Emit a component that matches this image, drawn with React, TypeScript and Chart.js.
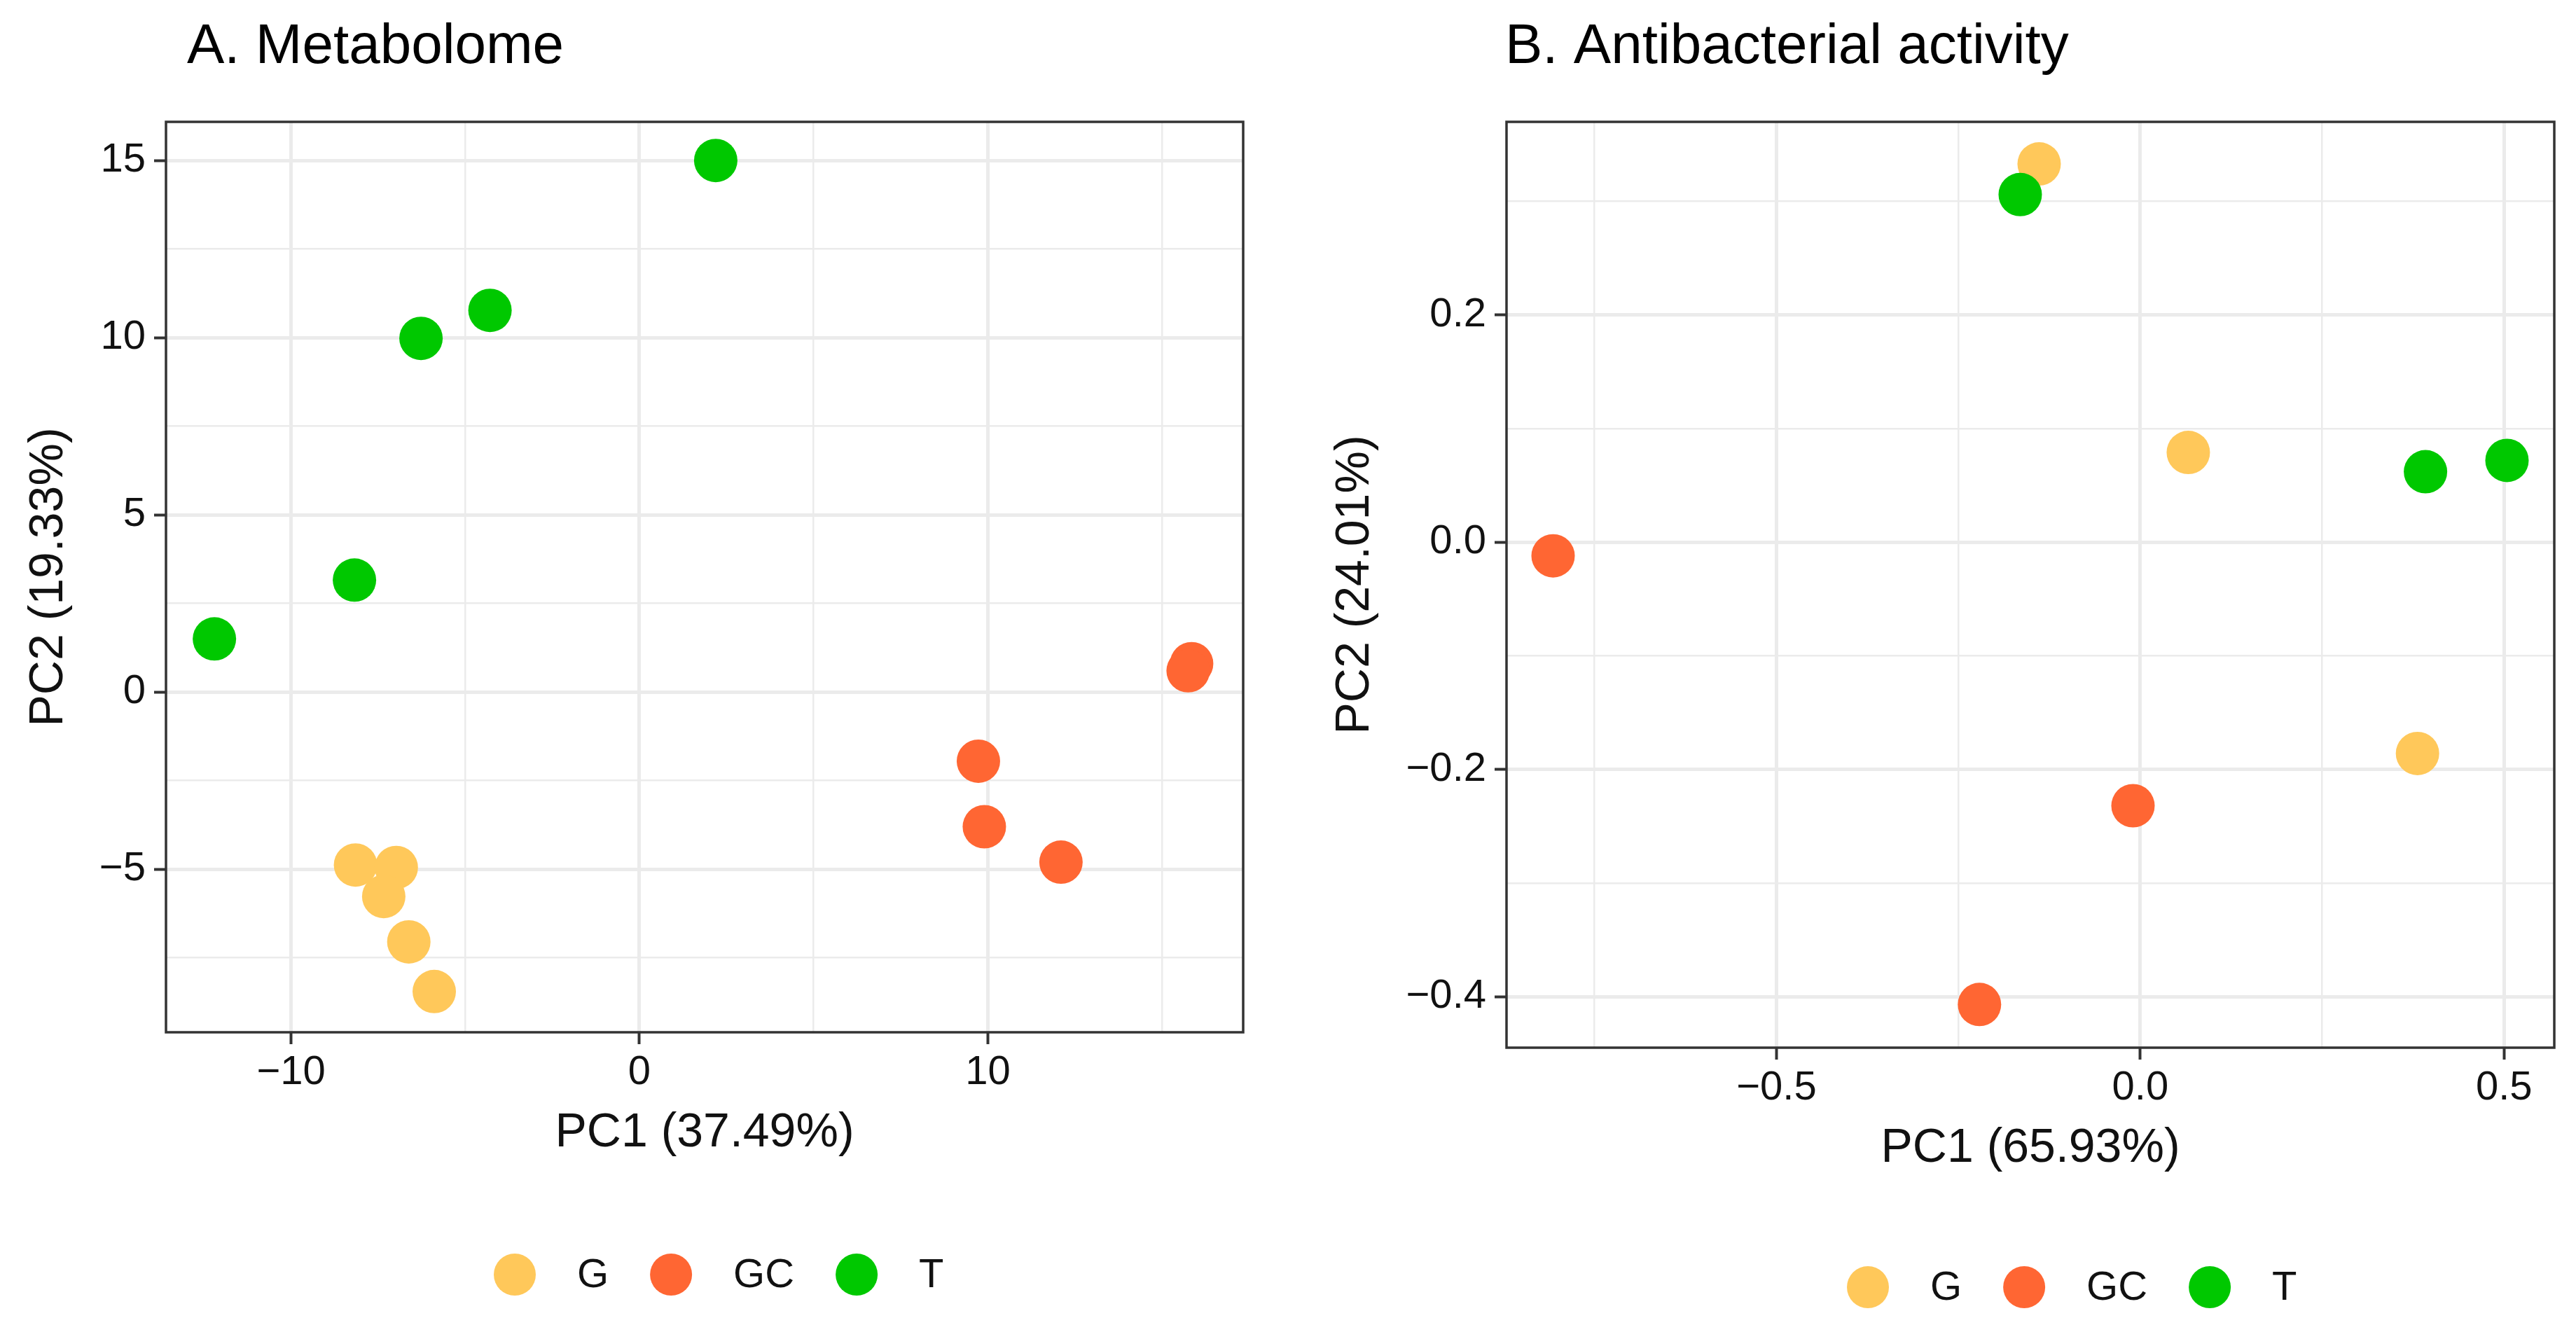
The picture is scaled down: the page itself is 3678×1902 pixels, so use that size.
import React, { useEffect, useRef } from "react";
import { Chart, registerables } from "chart.js";

Chart.register(...registerables);

// ---------- data ----------
const groups = ["G", "GC", "T"];
const groupColors = ["#FFC85A", "#FF6633", "#00C800"];

// Panel A: Metabolome
const metaGx = [-8.15, -6.98, -7.34, -6.62, -5.89];
const metaGy = [-4.88, -4.95, -5.77, -7.05, -8.45];
const metaGCx = [9.73, 9.9, 12.1, 15.85, 15.75];
const metaGCy = [-1.95, -3.8, -4.8, 0.8, 0.6];
const metaTx = [2.19, -4.29, -6.27, -8.18, -12.2];
const metaTy = [15.0, 10.77, 9.98, 3.16, 1.5];

const metaXMajor = [-10, 0, 10];
const metaXMajorLabels = ["\u221210", "0", "10"];
const metaXMinor = [-5, 5, 15];
const metaYMajor = [-5, 0, 5, 10, 15];
const metaYMajorLabels = ["\u22125", "0", "5", "10", "15"];
const metaYMinor = [-7.5, -2.5, 2.5, 7.5, 12.5];
const metaXRange = [-13.59, 17.33];
const metaYRange = [-9.6, 16.09];

// Panel B: Antibacterial activity
const antiGx = [-0.139, 0.066, 0.381];
const antiGy = [0.333, 0.079, -0.186];
const antiGCx = [-0.807, -0.01, -0.221];
const antiGCy = [-0.012, -0.232, -0.407];
const antiTx = [-0.165, 0.392, 0.504];
const antiTy = [0.306, 0.062, 0.072];

const antiXMajor = [-0.5, 0, 0.5];
const antiXMajorLabels = ["\u22120.5", "0.0", "0.5"];
const antiXMinor = [-0.75, -0.25, 0.25];
const antiYMajor = [-0.4, -0.2, 0, 0.2];
const antiYMajorLabels = ["\u22120.4", "\u22120.2", "0.0", "0.2"];
const antiYMinor = [-0.3, -0.1, 0.1, 0.3];
const antiXRange = [-0.871, 0.569];
const antiYRange = [-0.445, 0.37];

// ---------- helpers ----------
const FONT = "'Liberation Sans', Arial, sans-serif";
const TEXT = "#111111";
const GRID = "#EBEBEB";
const BORDER = "#333333";

const near = (a: number, b: number) => Math.abs(a - b) < 1e-9;

function zip(xs: number[], ys: number[]) {
  return xs.map((x, i) => ({ x, y: ys[i] }));
}

function makeScale(
  range: number[],
  major: number[],
  labels: string[],
  minor: number[],
  title: string,
  isX: boolean,
  fixedSize: number,
  titlePad: number
) {
  const isMajor = (v: number) => major.some((m) => near(m, v));
  return {
    type: "linear",
    position: isX ? "bottom" : "left",
    min: range[0],
    max: range[1],
    afterBuildTicks: (scale: any) => {
      const all = [...major, ...minor].sort((a, b) => a - b);
      scale.ticks = all.map((v) => ({ value: v }));
    },
    afterFit: (scale: any) => {
      if (isX) scale.height = fixedSize;
      else scale.width = fixedSize;
    },
    border: { display: false },
    grid: {
      color: GRID,
      lineWidth: (ctx: any) => (ctx.tick && isMajor(ctx.tick.value) ? 5 : 2.5),
      drawTicks: true,
      tickLength: 17,
      tickWidth: 4,
      tickColor: (ctx: any) =>
        ctx.tick && isMajor(ctx.tick.value) ? BORDER : "rgba(0,0,0,0)",
    },
    ticks: {
      autoSkip: false,
      maxRotation: 0,
      minRotation: 0,
      padding: isX ? 6 : 12,
      color: TEXT,
      font: { family: FONT, size: 58 },
      callback: (v: number) => {
        const i = major.findIndex((m) => near(m, v));
        return i >= 0 ? labels[i] : "";
      },
    },
    title: {
      display: true,
      text: title,
      color: TEXT,
      font: { family: FONT, size: 68 },
      padding: isX ? { top: 0, bottom: titlePad } : { top: titlePad, bottom: 0 },
    },
  };
}

function decorPlugin(cfg: {
  title: string;
  titleX: number;
  titleY: number;
  legendX: number;
  legendY: number;
}) {
  return {
    id: "decor",
    afterDraw(chart: any) {
      const { ctx, chartArea } = chart;
      ctx.save();
      // panel border
      ctx.strokeStyle = BORDER;
      ctx.lineWidth = 3.5;
      ctx.strokeRect(
        chartArea.left,
        chartArea.top,
        chartArea.right - chartArea.left,
        chartArea.bottom - chartArea.top
      );
      // title
      ctx.fillStyle = "#000000";
      ctx.font = `80px ${FONT}`;
      ctx.textAlign = "left";
      ctx.textBaseline = "alphabetic";
      ctx.fillText(cfg.title, cfg.titleX, cfg.titleY);
      // legend
      ctx.font = `58px ${FONT}`;
      ctx.textBaseline = "middle";
      let x = cfg.legendX;
      chart.data.datasets.forEach((ds: any) => {
        ctx.beginPath();
        ctx.fillStyle = ds.backgroundColor;
        ctx.arc(x, cfg.legendY, 30, 0, Math.PI * 2);
        ctx.fill();
        ctx.fillStyle = TEXT;
        const tx = x + 89;
        ctx.fillText(ds.label, tx, cfg.legendY + 2);
        x = tx + ctx.measureText(ds.label).width + 89;
      });
      ctx.restore();
    },
  };
}

function buildDatasets(sets: { x: number[]; y: number[] }[]) {
  return sets.map((s, i) => ({
    label: groups[i],
    data: zip(s.x, s.y),
    backgroundColor: groupColors[i],
    borderColor: groupColors[i],
    pointRadius: 31,
    pointHoverRadius: 31,
    pointBorderWidth: 0,
    showLine: false,
    order: sets.length - i,
  }));
}

function Panel(props: {
  left: number;
  width: number;
  config: any;
}) {
  const ref = useRef<HTMLCanvasElement | null>(null);
  useEffect(() => {
    if (!ref.current) return;
    const chart = new Chart(ref.current, props.config);
    return () => chart.destroy();
  }, []);
  return (
    <canvas
      ref={ref}
      width={props.width}
      height={1902}
      style={{
        position: "absolute",
        left: props.left,
        top: 0,
        width: props.width,
        height: 1902,
      }}
    />
  );
}

export default function App() {
  const widthA = 1840;
  const widthB = 1838;

  const configA = {
    type: "scatter",
    data: {
      datasets: buildDatasets([
        { x: metaGx, y: metaGy },
        { x: metaGCx, y: metaGCy },
        { x: metaTx, y: metaTy },
      ]),
    },
    options: {
      responsive: false,
      animation: false,
      devicePixelRatio: 1,
      layout: { padding: { top: 174, left: 0, right: widthA - 1775, bottom: 1902 - 1474 - 200 } },
      plugins: { legend: { display: false }, tooltip: { enabled: false } },
      scales: {
        x: makeScale(metaXRange, metaXMajor, metaXMajorLabels, metaXMinor, "PC1 (37.49%)", true, 200, 15),
        y: makeScale(metaYRange, metaYMajor, metaYMajorLabels, metaYMinor, "PC2 (19.33%)", false, 237, 29),
      },
    },
    plugins: [
      decorPlugin({ title: "A. Metabolome", titleX: 267, titleY: 90, legendX: 735, legendY: 1820 }),
    ],
  };

  const configB = {
    type: "scatter",
    data: {
      datasets: buildDatasets([
        { x: antiGx, y: antiGy },
        { x: antiGCx, y: antiGCy },
        { x: antiTx, y: antiTy },
      ]),
    },
    options: {
      responsive: false,
      animation: false,
      devicePixelRatio: 1,
      layout: { padding: { top: 174, left: 0, right: widthB - (3664 - 1840), bottom: 1902 - 1496 - 200 } },
      plugins: { legend: { display: false }, tooltip: { enabled: false } },
      scales: {
        x: makeScale(antiXRange, antiXMajor, antiXMajorLabels, antiXMinor, "PC1 (65.93%)", true, 200, 15),
        y: makeScale(antiYRange, antiYMajor, antiYMajorLabels, antiYMinor, "PC2 (24.01%)", false, 2151 - 1840, 54),
      },
    },
    plugins: [
      decorPlugin({
        title: "B. Antibacterial activity",
        titleX: 2149 - 1840,
        titleY: 90,
        legendX: 2667 - 1840,
        legendY: 1838,
      }),
    ],
  };

  return (
    <div
      style={{
        position: "absolute",
        left: 0,
        top: 0,
        width: 3678,
        height: 1902,
        background: "#ffffff",
        overflow: "hidden",
      }}
    >
      <Panel left={0} width={widthA} config={configA} />
      <Panel left={1840} width={widthB} config={configB} />
    </div>
  );
}
